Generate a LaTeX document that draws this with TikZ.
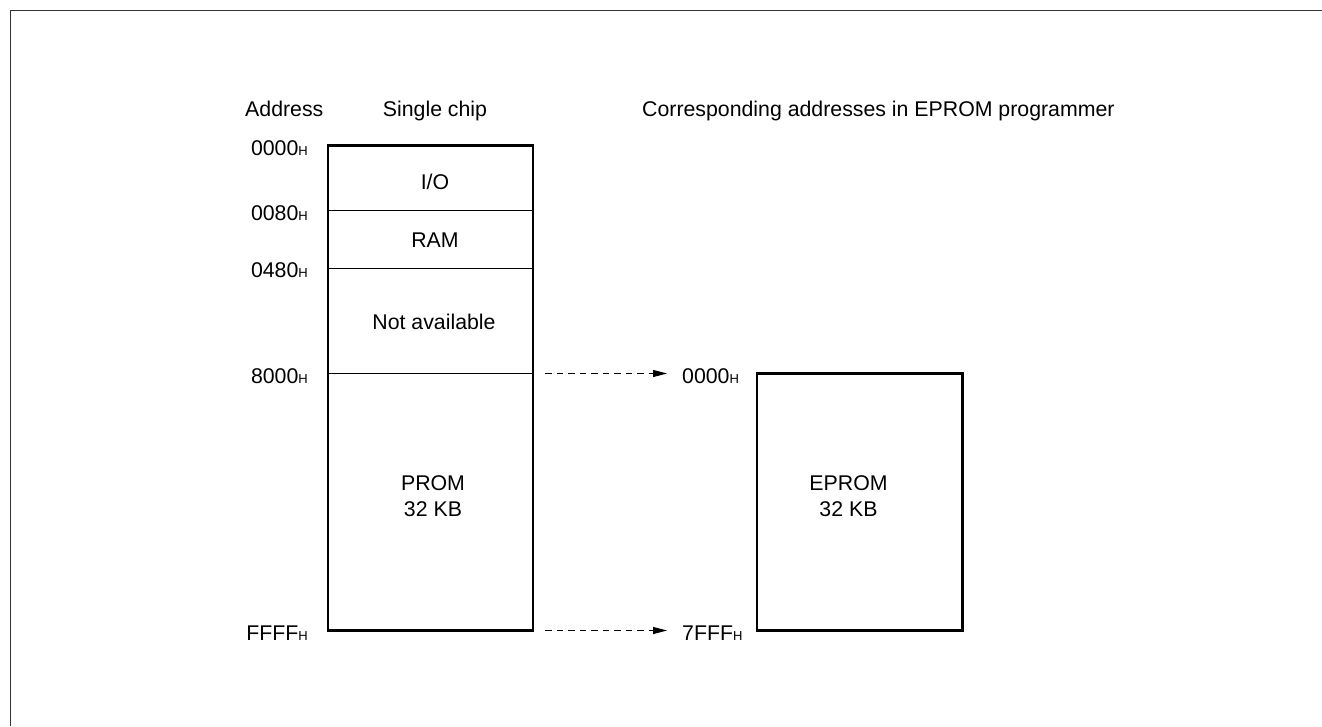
\documentclass[tikz,border=0pt]{standalone}
\usepackage{fontspec}
\setmainfont{Liberation Sans}
\usetikzlibrary{arrows.meta}
\newcommand\hx[1]{#1{\fontsize{13}{13}\selectfont H}}
\begin{document}
\begin{tikzpicture}[x=1pt,y=-1pt,
  every node/.style={inner sep=0pt,font=\fontsize{21.3}{26}\selectfont},
  membox/.style={draw,line width=2.5pt,minimum width=205pt,inner sep=0pt},
  divider/.style={line width=1pt},
  maparrow/.style={line width=1pt,dash pattern=on 6.5pt off 5pt,-{Triangle[length=14pt,width=7pt]}},
  lbl/.style={anchor=base east},
  rlbl/.style={anchor=base west},
  txt/.style={anchor=base}]
\useasboundingbox (0,0) rectangle (1322,726);
% frame
\draw[line width=1.2pt,black!80] (10.5,726) -- (10.5,10.5) -- (1322,10.5);
% headers
\node[anchor=base west] (hAddr) at (245,116) {Address};
\node[anchor=base] (hChip) at (435,116) {Single chip};
\node[anchor=base west] (hProg) at (642,116) {Corresponding addresses in EPROM programmer};
% single chip box
\node[membox,minimum height=485pt] (chip) at (430.5,388) {};
\coordinate (d1l) at (328,210.5); \coordinate (d1r) at (533,210.5);
\coordinate (d2l) at (328,268);   \coordinate (d2r) at (533,268);
\coordinate (d3l) at (328,373.5); \coordinate (d3r) at (533,373.5);
\draw[divider] (d1l) -- (d1r);
\draw[divider] (d2l) -- (d2r);
\draw[divider] (d3l) -- (d3r);
\node[txt] (io) at (435,189.3) {I/O};
\node[txt] (ram) at (435,247.7) {RAM};
\node[txt] (na) at (434,329) {Not available};
\node[txt] (prom) at (433,490.7) {PROM};
\node[txt] (promkb) at (433,516.7) {32 KB};
% address labels
\node[lbl] (a0) at (308,155.7) {\hx{0000}};
\node[lbl] (a1) at (308,220.4) {\hx{0080}};
\node[lbl] (a2) at (308,277.7) {\hx{0480}};
\node[lbl] (a3) at (308,383.3) {\hx{8000}};
\node[lbl] (a4) at (308,640.3) {\hx{FFFF}};
% EPROM box
\node[membox,minimum width=205.5pt,minimum height=257pt] (eprom) at (859.75,502) {};
\node[txt] (ep) at (848.5,490.7) {EPROM};
\node[txt] (epkb) at (848.5,516.7) {32 KB};
\node[rlbl] (b0) at (682,383.3) {\hx{0000}};
\node[rlbl] (b1) at (682,640.3) {\hx{7FFF}};
% arrows
\coordinate (s1) at (545,373.5); \coordinate (e1) at (667,373.5);
\coordinate (s2) at (545,630.5); \coordinate (e2) at (667,630.5);
\draw[maparrow] (s1) -- (e1);
\draw[maparrow] (s2) -- (e2);
\end{tikzpicture}
\end{document}
